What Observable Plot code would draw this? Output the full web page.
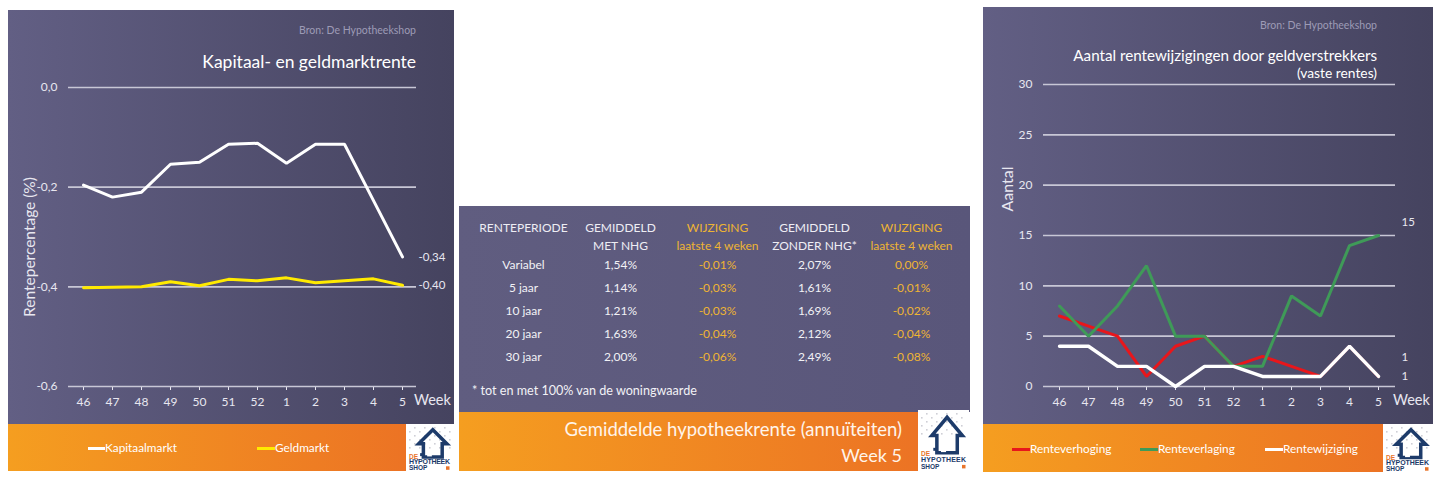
<!DOCTYPE html>
<html><head><meta charset="utf-8">
<script src="https://cdn.jsdelivr.net/npm/d3@7"></script>
<script src="https://cdn.jsdelivr.net/npm/@observablehq/plot@0.6"></script>
<style>
body{margin:0;background:#fff;width:1440px;height:483px;position:relative;overflow:hidden;font-family:Lato,"Open Sans",sans-serif;}
.box{position:absolute;}
.purple{background:linear-gradient(to right,#625f84,#45435f);}
.purple2{background:linear-gradient(to right,#605d80,#59567a);}
.orange{background:linear-gradient(to right,#f59e20,#ec7324);}
.logo{background:#fff;}
.sw{position:absolute;height:3px;}
svg{overflow:visible}
</style></head><body>
<div class="box purple" style="left:8px;top:10px;width:446px;height:414px"></div>
<div class="box orange" style="left:8px;top:424px;width:398px;height:47px"></div>
<div class="box logo" id="logo1" style="left:406px;top:424px;width:47px;height:47px"></div>

<div class="box purple2" style="left:459px;top:206px;width:511px;height:206px"></div>
<div class="box orange" style="left:459px;top:412px;width:459px;height:59px"></div>
<div class="box logo" id="logo2" style="left:918px;top:410px;width:51px;height:61px"></div>

<div class="box purple" style="left:983px;top:7px;width:450px;height:417px"></div>
<div class="box orange" style="left:983px;top:424px;width:400px;height:48px"></div>
<div class="box logo" id="logo3" style="left:1383px;top:424px;width:49px;height:48px"></div>

<div id="c1" class="box" style="left:8px;top:10px"></div>
<div id="c2" class="box" style="left:459px;top:206px"></div>
<div id="c3" class="box" style="left:983px;top:7px"></div>

<script>
// ---- data ----
const weeks = ["46","47","48","49","50","51","52","1","2","3","4","5"];
const kapitaalmarkt = [-0.196,-0.22,-0.21,-0.154,-0.15,-0.114,-0.112,-0.152,-0.114,-0.114,-0.227,-0.34];
const geldmarkt = [-0.402,-0.401,-0.40,-0.39,-0.398,-0.385,-0.388,-0.382,-0.392,-0.388,-0.384,-0.397];
const renteTicks = [0,-0.2,-0.4,-0.6];

const renteverhoging = [7,6,5,1,4,5,2,3,2,1,4,1];
const renteverlaging = [8,5,8,12,5,5,2,2,9,7,14,15];
const rentewijziging = [4,4,2,2,0,2,2,1,1,1,4,1];
const aantalTicks = [0,5,10,15,20,25,30];

const periodes = ["Variabel","5 jaar","10 jaar","20 jaar","30 jaar"];
const gemMetNHG = [1.54,1.14,1.21,1.63,2.00];
const wijzMetNHG = [-0.01,-0.03,-0.03,-0.04,-0.06];
const gemZonderNHG = [2.07,1.61,1.69,2.12,2.49];
const wijzZonderNHG = [0.00,-0.01,-0.02,-0.04,-0.08];
const tableCols = ["periode","met","wijzMet","zonder","wijzZonder"];
const headerLine1 = ["RENTEPERIODE","GEMIDDELD","WIJZIGING","GEMIDDELD","WIJZIGING"];
const headerLine2 = ["","MET NHG","laatste 4 weken","ZONDER NHG*","laatste 4 weken"];

// ---- helpers ----
const GRID = "#c8c7d6", TXT = "#e8e7f0", YEL = "#eeb433";
function label(txt, x, y, o = {}) {
  const d = document.createElement("div");
  d.textContent = txt;
  const tx = o.anchor === "end" ? "-100%" : o.anchor === "middle" ? "-50%" : "0";
  d.style.cssText = `position:absolute;left:${x}px;top:${y}px;white-space:nowrap;font-size:${o.size||12}px;color:${o.color||"#fff"};line-height:1.2;transform:translate(${tx},-50%)${o.rotate?` rotate(${o.rotate}deg)`:""};`;
  document.body.appendChild(d);
}
function swatch(x1, x2, y, color) {
  const d = document.createElement("div");
  d.className = "sw";
  d.style.cssText += `left:${x1}px;top:${y-1.5}px;width:${x2-x1}px;background:${color};`;
  document.body.appendChild(d);
}
function logo(id) {
  const el = document.getElementById(id);
  const w = el.offsetWidth, h = el.offsetHeight;
  let dots = "";
  for (let i = 0; i < 9; i++) for (let j = 0; j < 6; j++) {
    if ((i + j) % 2) dots += `<rect x="${3 + i*5}" y="${3 + j*4}" width="1.6" height="1.6" fill="#cfcfd6"/>`;
  }
  const cx = w*0.57, top = h*0.12;
  el.innerHTML = `<svg width="${w}" height="${h}" viewBox="0 0 ${w} ${h}">${dots}
   <path d="M${cx-w*0.3},${top+h*0.3} L${cx},${top} L${cx+w*0.3},${top+h*0.3} L${cx+w*0.2},${top+h*0.3} L${cx+w*0.2},${top+h*0.58} L${cx-w*0.2},${top+h*0.58} L${cx-w*0.2},${top+h*0.3} Z" fill="none" stroke="#1d3b6a" stroke-width="3.5" stroke-linejoin="miter"/>
   <rect x="${cx-w*0.12}" y="${top+h*0.47}" width="${w*0.1}" height="${h*0.1}" fill="#fff"/>
   <rect x="${w*0.3}" y="${top+h*0.5}" width="3" height="3" fill="#1d3b6a"/>
   <text x="3" y="${h*0.75}" font-size="6.5" font-weight="bold" fill="#e8742a" font-family="Liberation Sans">DE</text>
   <text x="3" y="${h*0.86}" font-size="7" font-weight="bold" fill="#1d3b6a" font-family="Liberation Sans Narrow, Liberation Sans" textLength="${w-6}">HYPOTHEEK</text>
   <text x="3" y="${h*0.97}" font-size="6.5" font-weight="bold" fill="#1d3b6a" font-family="Liberation Sans">SHOP</text>
   <rect x="${w-7}" y="${h*0.9}" width="3.5" height="3.5" fill="#e8742a"/></svg>`;
}
const comma = (v, n) => (v < 0 ? "-" : "") + Math.abs(v).toFixed(n).replace(".", ",");
const baseStyle = {background: "transparent", color: TXT, fontSize: "12px", fontFamily: "Lato, 'Open Sans', sans-serif", overflow: "visible"};

// ---- chart 1 ----
const rows1 = weeks.map((w, i) => ({week: w, kap: kapitaalmarkt[i], geld: geldmarkt[i]}));
const last1 = rows1[rows1.length - 1];
const chart1 = Plot.plot({
  width: 446, height: 414, marginTop: 77, marginBottom: 38, marginLeft: 60, marginRight: 38,
  style: baseStyle,
  x: {type: "point", domain: weeks, range: [75, 394], padding: 0, tickSize: 4, tickPadding: 7, label: null},
  y: {domain: [-0.6, 0], ticks: renteTicks, tickSize: 0, tickPadding: 11, tickFormat: v => comma(v, 1), label: null},
  marks: [
    Plot.ruleY(renteTicks, {stroke: GRID, strokeWidth: 1.6}),
    Plot.line(rows1, {x: "week", y: "kap", stroke: "#ffffff", strokeWidth: 3, strokeLinejoin: "miter"}),
    Plot.line(rows1, {x: "week", y: "geld", stroke: "#ffea00", strokeWidth: 3, strokeLinejoin: "miter"}),
    Plot.text([last1], {x: "week", y: "kap", text: d => comma(d.kap, 2), dx: 16, textAnchor: "start", fill: TXT, fontSize: 11.5}),
    Plot.text([last1], {x: "week", y: "geld", text: d => comma(d.geld, 2), dx: 16, textAnchor: "start", fill: TXT, fontSize: 11.5})
  ]
});
document.getElementById("c1").appendChild(chart1);

// ---- chart 2 (table) ----
const rows2 = periodes.map((p, i) => ({periode: p, met: gemMetNHG[i], wijzMet: wijzMetNHG[i], zonder: gemZonderNHG[i], wijzZonder: wijzZonderNHG[i]}));
const hdr = tableCols.map((c, i) => ({col: c, l1: headerLine1[i], l2: headerLine2[i], yellow: c.startsWith("wijz")}));
const FS = 12;
const cellMark = (key, fmt, color) => Plot.text(rows2, {x: () => key, y: "periode", text: d => fmt(d[key]), fill: color, fontSize: FS});
const pct = v => comma(v, 2) + "%";
const chart2 = Plot.plot({
  width: 511, height: 206, margin: 0,
  style: baseStyle,
  x: {type: "point", domain: tableCols, range: [63, 452], padding: 0, axis: null},
  y: {type: "point", domain: ["hdr", ...periodes], range: [35, 152], padding: 0, axis: null},
  marks: [
    Plot.text(hdr.filter(d => !d.yellow), {x: "col", y: () => "hdr", text: "l1", dy: -14.5, fill: "#eeedf4", fontSize: FS}),
    Plot.text(hdr.filter(d => !d.yellow), {x: "col", y: () => "hdr", text: "l2", dy: 3.5, fill: "#eeedf4", fontSize: FS}),
    Plot.text(hdr.filter(d => d.yellow), {x: "col", y: () => "hdr", text: "l1", dy: -14.5, fill: YEL, fontSize: FS}),
    Plot.text(hdr.filter(d => d.yellow), {x: "col", y: () => "hdr", text: "l2", dy: 3.5, fill: YEL, fontSize: FS}),
    cellMark("periode", v => v, "#f2f2f6"),
    cellMark("met", pct, "#f2f2f6"),
    cellMark("wijzMet", pct, YEL),
    cellMark("zonder", pct, "#f2f2f6"),
    cellMark("wijzZonder", pct, YEL)
  ]
});
document.getElementById("c2").appendChild(chart2);

// ---- chart 3 ----
const rows3 = weeks.map((w, i) => ({week: w, op: renteverhoging[i], af: renteverlaging[i], wijz: rentewijziging[i]}));
const last3 = rows3[rows3.length - 1];
const chart3 = Plot.plot({
  width: 450, height: 417, marginTop: 77, marginBottom: 38, marginLeft: 60, marginRight: 38,
  style: baseStyle,
  x: {type: "point", domain: weeks, range: [74, 397], padding: 0, tickSize: 4, tickPadding: 7, label: null},
  y: {domain: [0, 30], ticks: aantalTicks, tickSize: 0, tickPadding: 11, tickFormat: d => String(d), label: null},
  marks: [
    Plot.ruleY(aantalTicks, {stroke: GRID, strokeWidth: 1.6}),
    Plot.line(rows3, {x: "week", y: "op", stroke: "#e8161b", strokeWidth: 3, strokeLinejoin: "miter"}),
    Plot.line(rows3, {x: "week", y: "af", stroke: "#3f9a58", strokeWidth: 3, strokeLinejoin: "miter"}),
    Plot.line(rows3, {x: "week", y: "wijz", stroke: "#ffffff", strokeWidth: 3.4, strokeLinejoin: "miter"}),
    Plot.text([last3], {x: "week", y: "af", text: d => String(d.af), dx: 23, dy: -13, textAnchor: "start", fill: TXT, fontSize: 11.5}),
    Plot.text([last3], {x: "week", y: "op", text: d => String(d.op), dx: 23, dy: -19, textAnchor: "start", fill: TXT, fontSize: 11.5}),
    Plot.text([last3], {x: "week", y: "wijz", text: d => String(d.wijz), dx: 23, textAnchor: "start", fill: TXT, fontSize: 11.5})
  ]
});
document.getElementById("c3").appendChild(chart3);

// ---- titles, legends ----
label("Bron: De Hypotheekshop", 416, 30, {anchor: "end", size: 10.5, color: "#9d9bb6"});
label("Kapitaal- en geldmarktrente", 416, 61, {anchor: "end", size: 17.5});
label("Rentepercentage (%)", 29, 247, {anchor: "middle", size: 15.5, color: TXT, rotate: -90});
label("Week", 414, 400, {size: 14.5, color: TXT});
swatch(88, 105, 448, "#ffffff"); label("Kapitaalmarkt", 105, 448, {size: 11.8});
swatch(257, 275, 448, "#ffea00"); label("Geldmarkt", 275, 448, {size: 11.8});

label("* tot en met 100% van de woningwaarde", 472, 391, {size: 12.6, color: "#f2f2f6"});
label("Gemiddelde hypotheekrente (annuïteiten)", 902, 429, {anchor: "end", size: 18.5, color: "#fff4ea"});
label("Week 5", 902, 456, {anchor: "end", size: 18, color: "#fff4ea"});

label("Bron: De Hypotheekshop", 1377, 25, {anchor: "end", size: 10.5, color: "#9d9bb6"});
label("Aantal rentewijzigingen door geldverstrekkers", 1377, 55, {anchor: "end", size: 15.2});
label("(vaste rentes)", 1377, 73, {anchor: "end", size: 13.8});
label("Aantal", 1007, 189, {anchor: "middle", size: 16, color: TXT, rotate: -90});
label("Week", 1393, 400, {size: 14.5, color: TXT});
swatch(1012, 1030, 449, "#e8161b"); label("Renteverhoging", 1030, 449, {size: 11.8});
swatch(1140, 1158, 449, "#3f9a58"); label("Renteverlaging", 1158, 449, {size: 11.8});
swatch(1265, 1283, 449, "#ffffff"); label("Rentewijziging", 1283, 449, {size: 11.8});

logo("logo1"); logo("logo2"); logo("logo3");
</script>
</body></html>
